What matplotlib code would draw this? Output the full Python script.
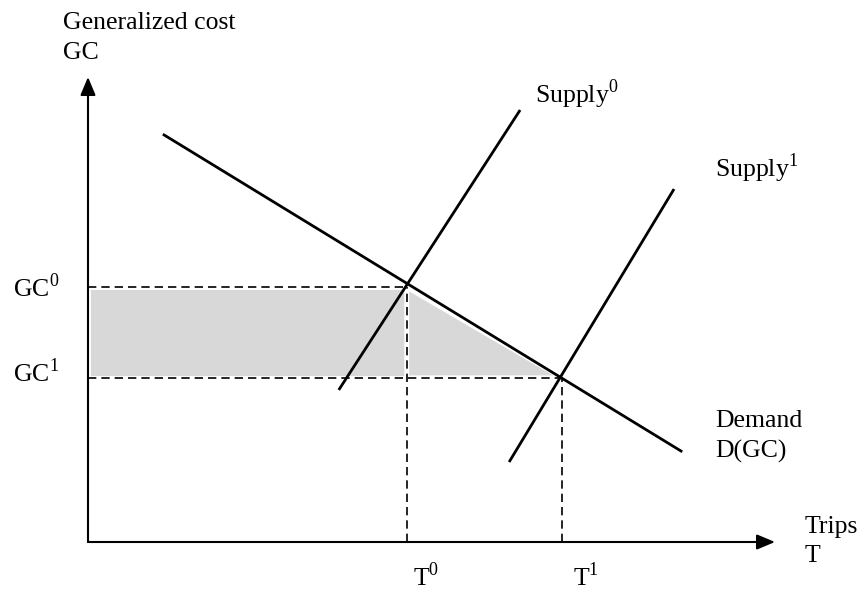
"""Generalized cost vs trips: supply shift and consumer surplus gain."""

import matplotlib.pyplot as plt
from matplotlib.patches import Polygon

plt.rcParams["mathtext.fontset"] = "custom"
plt.rcParams["mathtext.rm"] = "Liberation Serif"

# Equilibrium values (axis units: 0..10 on both axes)
t_eq = [4.64, 6.90]      # T0, T1
gc_eq = [5.48, 3.53]     # GC0, GC1

# Curve end points (x = trips, y = generalized cost)
demand_x = [1.09, 8.65]
demand_y = [8.77, 1.94]
supply0_x = [3.65, 6.29]
supply0_y = [3.27, 9.29]
supply1_x = [6.13, 8.53]
supply1_y = [1.72, 7.59]

axis_max = 10.0

FIG_W, FIG_H = 866, 594
fig = plt.figure(figsize=(FIG_W / 100, FIG_H / 100), dpi=100)
ax = fig.add_axes([0, 0, 1, 1])
# origin sits at pixel (88, 542); axis tips at x=775, y=77
ux = (775 - 88) / axis_max
uy = (542 - 77) / axis_max
ax.set_xlim(-88 / ux, (FIG_W - 88) / ux)
ax.set_ylim((542 - FIG_H) / uy, 542 / uy)
ax.axis("off")

GRAY = "#d8d8d8"

# shaded surplus areas: rectangle left of T0 and triangle under demand
rect = Polygon(
    [(0, gc_eq[1]), (t_eq[0], gc_eq[1]), (t_eq[0], gc_eq[0]), (0, gc_eq[0])],
    closed=True, facecolor=GRAY, edgecolor="white", lw=3.5, zorder=1,
)
tri = Polygon(
    [(t_eq[0], gc_eq[0]), (t_eq[1], gc_eq[1]), (t_eq[0], gc_eq[1])],
    closed=True, facecolor=GRAY, edgecolor="white", lw=3.5, zorder=1,
)
ax.add_patch(rect)
ax.add_patch(tri)

# dashed guide lines
dash = dict(color="black", lw=1.2, linestyle=(0, (5, 3)), zorder=2)
ax.plot([0, t_eq[0]], [gc_eq[0], gc_eq[0]], **dash)
ax.plot([0, t_eq[1]], [gc_eq[1], gc_eq[1]], **dash)
ax.plot([t_eq[0], t_eq[0]], [0, gc_eq[0]], **dash)
ax.plot([t_eq[1], t_eq[1]], [0, gc_eq[1]], **dash)

# curves
curve = dict(color="black", lw=2.0, solid_capstyle="butt", zorder=3)
ax.plot(demand_x, demand_y, **curve)
ax.plot(supply0_x, supply0_y, **curve)
ax.plot(supply1_x, supply1_y, **curve)

# axes with arrowheads
arrow = dict(arrowstyle="-|>,head_length=0.55,head_width=0.23", color="black",
             lw=1.5, shrinkA=0, shrinkB=0, mutation_scale=20)
ax.annotate("", xy=(0, axis_max), xytext=(0, 0), arrowprops=arrow, zorder=4)
ax.annotate("", xy=(axis_max, 0), xytext=(0, 0), arrowprops=arrow, zorder=4)


def label(xp, yp, s):
    """Place text with its left baseline at pixel (xp, yp) from the top-left."""
    fig.text(xp / FIG_W, 1 - yp / FIG_H, s, fontsize=18.5,
             family="Liberation Serif", ha="left", va="baseline")


label(63, 29, "Generalized cost")
label(63, 59, "GC")
label(535, 103, r"Supply$^{\mathrm{0}}$")
label(715, 177, r"Supply$^{\mathrm{1}}$")
label(715, 427, "Demand")
label(715, 458, "D(GC)")
label(805, 533, "Trips")
label(805, 562, "T")
label(413, 586, r"T$^{\mathrm{0}}$")
label(573, 586, r"T$^{\mathrm{1}}$")
label(13, 297, r"GC$^{\mathrm{0}}$")
label(13, 382, r"GC$^{\mathrm{1}}$")

fig.savefig("out.png", dpi=100)
